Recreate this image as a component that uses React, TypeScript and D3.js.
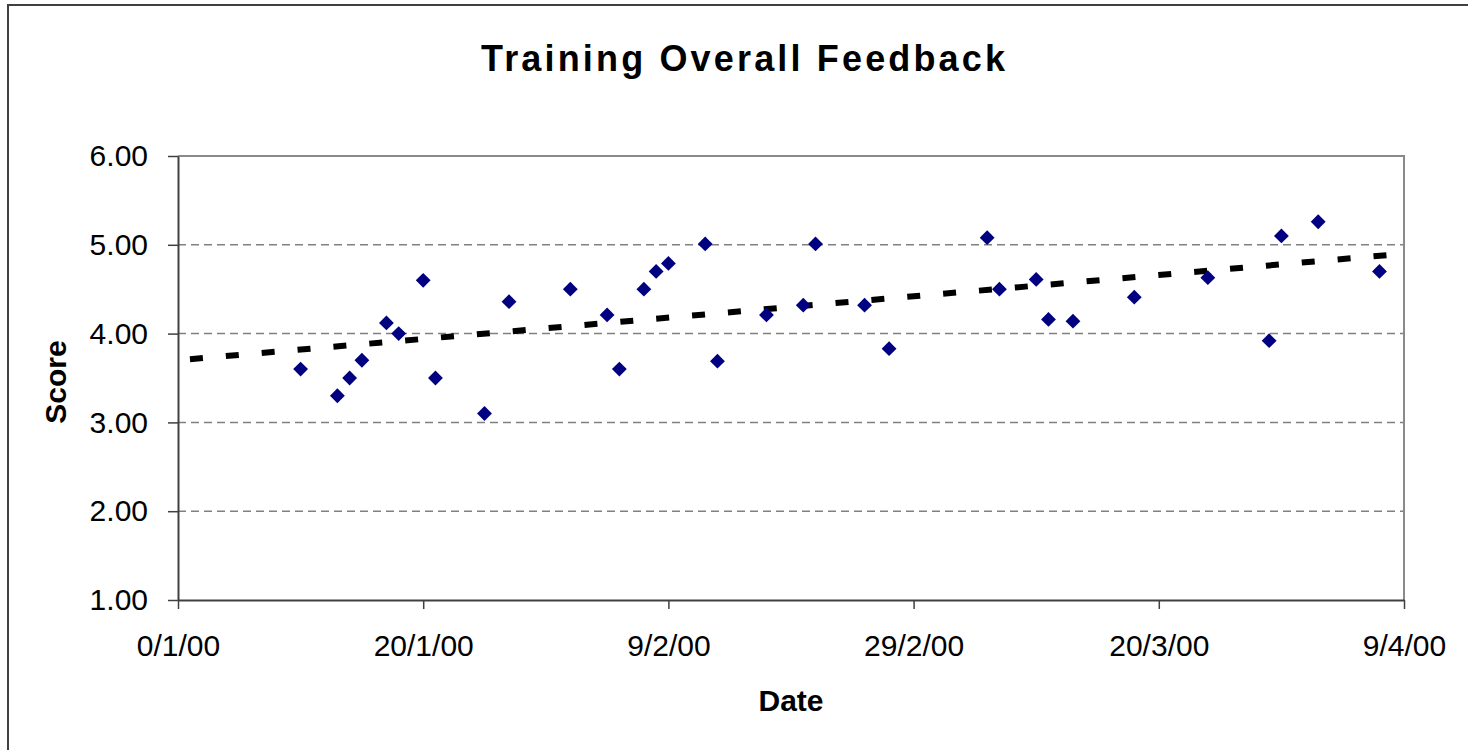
import React, { useRef, useEffect } from 'react';
import * as d3 from 'd3';

// days counted from 0/1/00 (Excel's day zero of January 2000)
const sessionDays = [10, 13, 14, 15, 17, 18, 20, 21, 25, 27, 32, 35, 36, 38, 39, 40, 43, 44, 48, 51, 52, 56, 58, 66, 67, 70, 71, 73, 78, 84, 89, 90, 93, 98];
const sessionScores = [3.6, 3.3, 3.5, 3.7, 4.12, 4.0, 4.6, 3.5, 3.1, 4.36, 4.5, 4.21, 3.6, 4.5, 4.7, 4.79, 5.01, 3.69, 4.21, 4.32, 5.01, 4.32, 3.83, 5.08, 4.5, 4.61, 4.16, 4.14, 4.41, 4.63, 3.92, 5.1, 5.26, 4.7];

// linear trendline, as drawn in the chart
const trendDays = [0, 100];
const trendScores = [3.7, 4.9];

const dateTicks = [0, 20, 40, 60, 80, 100];
const dateLabels = ['0/1/00', '20/1/00', '9/2/00', '29/2/00', '20/3/00', '9/4/00'];
const scoreTicks = [1, 2, 3, 4, 5, 6];

const WIDTH = 1468;
const HEIGHT = 750;

const App: React.FC = () => {
  const svgRef = useRef<SVGSVGElement>(null);

  useEffect(() => {
    if (!svgRef.current) return;
    const svg = d3.select(svgRef.current);
    svg.selectAll('*').remove();

    const left = 178, right = 1404, top = 156, bottom = 600;
    const font = '"Liberation Sans", Arial, sans-serif';

    const x = d3.scaleLinear().domain([0, 100]).range([left, right]);
    const y = d3.scaleLinear().domain([1, 6]).range([bottom, top]);

    // outer chart frame
    svg.append('rect')
      .attr('x', 8).attr('y', 5)
      .attr('width', 2000).attr('height', 2000)
      .attr('fill', '#fff')
      .attr('stroke', '#404040')
      .attr('stroke-width', 2);

    // title
    svg.append('text')
      .attr('x', (481 + 1005) / 2)
      .attr('y', 71)
      .attr('text-anchor', 'middle')
      .attr('font-family', font)
      .attr('font-weight', 'bold')
      .attr('font-size', 36)
      .attr('textLength', 524)
      .attr('lengthAdjust', 'spacing')
      .text('Training Overall Feedback');

    // gridlines
    svg.append('g')
      .selectAll('line')
      .data(scoreTicks.filter(v => v > 1 && v < 6))
      .enter()
      .append('line')
      .attr('x1', left).attr('x2', right)
      .attr('y1', d => y(d)).attr('y2', d => y(d))
      .attr('stroke', '#808080')
      .attr('stroke-width', 1.5)
      .attr('stroke-dasharray', '8,5');

    // plot area top / right border
    svg.append('path')
      .attr('d', `M${left},${y(6)}H${x(100)}V${y(1)}`)
      .attr('fill', 'none')
      .attr('stroke', '#8a8a8a')
      .attr('stroke-width', 2);

    // axes
    const yAxis = d3.axisLeft(y)
      .tickValues(scoreTicks)
      .tickSize(10)
      .tickSizeOuter(0)
      .tickPadding(20)
      .tickFormat(d => (d as number).toFixed(2));

    const xAxis = d3.axisBottom(x)
      .tickValues(dateTicks)
      .tickSize(9)
      .tickSizeOuter(0)
      .tickPadding(26)
      .tickFormat((_, i) => dateLabels[i]);

    const gy = svg.append('g').attr('transform', `translate(${left},0)`).call(yAxis);
    const gx = svg.append('g').attr('transform', `translate(0,${bottom})`).call(xAxis);

    [gx, gy].forEach(g => {
      g.select('.domain').attr('stroke', '#404040').attr('stroke-width', 2);
      g.selectAll('.tick line').attr('stroke', '#404040').attr('stroke-width', 1.5);
      g.selectAll('.tick text')
        .attr('fill', '#000')
        .style('font-family', font)
        .style('font-size', '30px');
    });

    // axis titles
    svg.append('text')
      .attr('transform', `translate(66,${(top + bottom) / 2 + 4}) rotate(-90)`)
      .attr('text-anchor', 'middle')
      .attr('font-family', font)
      .attr('font-weight', 'bold')
      .attr('font-size', 30)
      .text('Score');

    svg.append('text')
      .attr('x', 791)
      .attr('y', 711)
      .attr('text-anchor', 'middle')
      .attr('font-family', font)
      .attr('font-weight', 'bold')
      .attr('font-size', 30)
      .text('Date');

    // trendline
    const trend = d3.line<number>()
      .x(d => x(d))
      .y((_, i) => y(trendScores[i]));

    svg.append('path')
      .datum(trendDays)
      .attr('d', trend)
      .attr('fill', 'none')
      .attr('stroke', '#000')
      .attr('stroke-width', 6)
      .attr('stroke-dasharray', '13,23')
      .attr('stroke-dashoffset', 24);

    // data points (diamonds)
    const diamond = d3.symbol().type(d3.symbolSquare).size(110);
    svg.append('g')
      .selectAll('path')
      .data(sessionDays)
      .enter()
      .append('path')
      .attr('d', diamond)
      .attr('transform', (d, i) => `translate(${x(d)},${y(sessionScores[i])}) rotate(45)`)
      .attr('fill', '#000080');
  }, []);

  return (
    <svg
      ref={svgRef}
      width={WIDTH}
      height={HEIGHT}
      style={{ position: 'absolute', left: 0, top: 0, background: '#fff' }}
    />
  );
};

export default App;
